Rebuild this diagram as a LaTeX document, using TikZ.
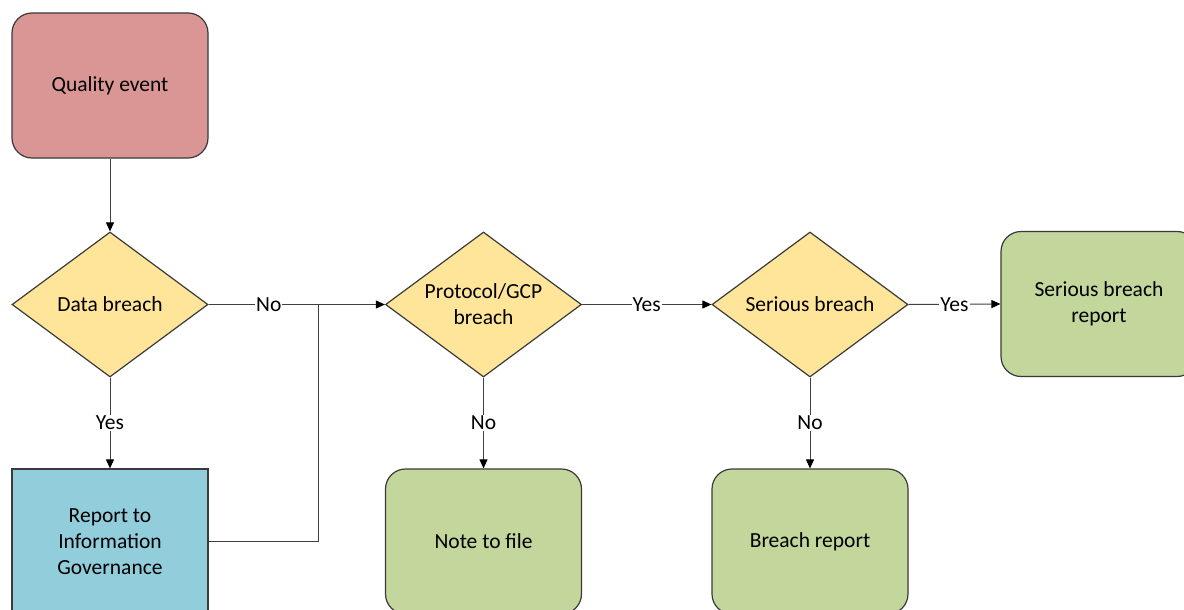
\documentclass[tikz,border=0pt]{standalone}
\usepackage{fontspec}
\setmainfont{Carlito}
\usetikzlibrary{shapes.geometric,arrows.meta}
\definecolor{edgegray}{HTML}{3A3A3A}
\definecolor{linegray}{HTML}{404040}
\definecolor{eventred}{HTML}{D99694}
\definecolor{decyellow}{HTML}{FFE599}
\definecolor{igblue}{HTML}{92CDDC}
\definecolor{outgreen}{HTML}{C3D69B}
\tikzset{
  base/.style={draw=edgegray, line width=1.2pt, align=center, inner sep=0pt,
    font=\fontsize{21.5}{26}\selectfont, text=black},
  roundbox/.style={base, rectangle, rounded corners=20pt,
    minimum width=196pt, minimum height=145pt},
  squarebox/.style={base, rectangle, minimum width=196pt, minimum height=145pt},
  decision/.style={base, diamond, aspect=1.35, fill=decyellow,
    minimum width=196pt, minimum height=145pt},
  flow/.style={draw=linegray, line width=1pt,
    -{Triangle[length=9pt,width=8pt,color=black]}},
  plain/.style={draw=linegray, line width=1pt},
  lbl/.style={fill=white, inner sep=1pt, font=\fontsize{21.5}{26}\selectfont}
}
\begin{document}
\begin{tikzpicture}[x=1pt,y=-1pt]
  \clip (0,0) rectangle (1184,610);
  \fill[white] (0,0) rectangle (1184,610);

  % process boxes and decisions
  \node[roundbox, fill=eventred] (qe) at (110,85.5) {Quality event};
  \node[decision] (db) at (110,304.5) {Data breach};
  \node[squarebox, fill=igblue] (ig) at (110,541.5) {Report to\\Information\\Governance};
  \node[decision] (pg) at (483.5,304.5) {Protocol/GCP\\breach};
  \node[decision] (sb) at (810,304.5) {Serious breach};
  \node[roundbox, fill=outgreen] (sbr) at (1099,304) {Serious breach\\report};
  \node[roundbox, fill=outgreen] (nf) at (483.5,541.5) {Note to file};
  \node[roundbox, fill=outgreen] (br) at (810,541.5) {Breach report};

  % junction where the IG route rejoins the main line
  \coordinate (j) at (318,304.5);

  % connectors
  \draw[flow] (qe.south) -- (db.north);
  \draw[flow] (db.south) -- node[lbl]{Yes} (ig.north);
  \draw[plain] (db.east) -- node[lbl,pos=0.55]{No} (j);
  \draw[flow] (j) -- (pg.west);
  \draw[plain] (ig.east) -| (j);
  \draw[flow] (pg.east) -- node[lbl]{Yes} (sb.west);
  \draw[flow] (pg.south) -- node[lbl]{No} (nf.north);
  \draw[flow] (sb.east) -- node[lbl]{Yes} (sbr.west);
  \draw[flow] (sb.south) -- node[lbl]{No} (br.north);
\end{tikzpicture}
\end{document}
